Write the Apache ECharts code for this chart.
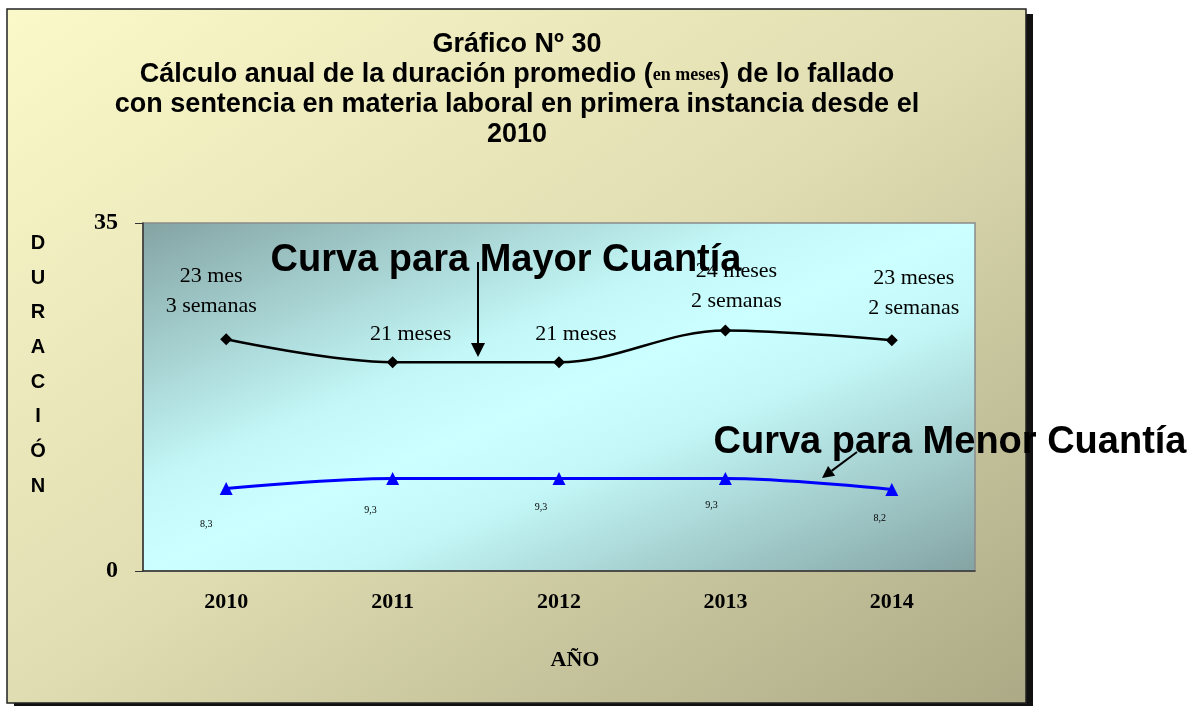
<!DOCTYPE html>
<html>
<head>
<meta charset="utf-8">
<script src="https://cdn.jsdelivr.net/npm/echarts@6/dist/echarts.min.js"></script>
<style>
  html, body { margin: 0; padding: 0; background: #fff; }
  #main { width: 1199px; height: 706px; }
</style>
</head>
<body>
<div id="main"></div>
<script>
const years = ['2010', '2011', '2012', '2013', '2014'];
const mayorValues = [23.3, 21.0, 21.0, 24.2, 23.2];
const mayorLabels = ['23 mes\n3 semanas', '21 meses', '21 meses', '24 meses\n2 semanas', '23 meses\n2 semanas'];
const menorValues = [8.3, 9.3, 9.3, 9.3, 8.2];
const menorLabels = ['8,3', '9,3', '9,3', '9,3', '8,2'];
const yTicks = [0, 35];

// label nudges, kept apart from the data
const mayorShift = [[-15, -4], [18, 1], [17, 1], [11, 0], [22, -3]];
const menorShift = [[-20, 20], [-22, 16], [-18, 13], [-14, 11], [-12, 13]];

const serif = '"Liberation Serif", "Times New Roman", serif';
const sans = '"Liberation Sans", Arial, sans-serif';

function arrow(x1, y1, x2, y2, head, width) {
  let ang = Math.atan2(y2 - y1, x2 - x1);
  let bx = x2 - head * Math.cos(ang);
  let by = y2 - head * Math.sin(ang);
  let px = Math.sin(ang) * width / 2;
  let py = -Math.cos(ang) * width / 2;
  return [
    { type: 'line', z: 120, shape: { x1: x1, y1: y1, x2: bx, y2: by }, style: { stroke: '#000', lineWidth: 2 } },
    { type: 'polygon', z: 120, shape: { points: [[x2, y2], [bx + px, by + py], [bx - px, by - py]] }, style: { fill: '#000' } }
  ];
}

function loadChart() {
  var chartDom = document.getElementById('main');
  var myChart = echarts.init(chartDom);
  var option;

  option = {
    animation: false,
    title: {
      left: 512,
      top: 25,
      textAlign: 'center',
      text: 'Gráfico Nº 30\nCálculo anual de la duración promedio ({s|en meses}) de lo fallado\ncon sentencia en materia laboral en primera instancia desde el\n2010',
      textStyle: {
        fontFamily: sans,
        fontWeight: 'bold',
        fontSize: 27,
        lineHeight: 30,
        color: '#000',
        rich: {
          s: { fontFamily: serif, fontWeight: 'bold', fontSize: 18, color: '#000' }
        }
      }
    },
    grid: {
      left: 143,
      top: 223,
      right: 224,
      bottom: 135,
      show: true,
      borderColor: '#8a8a8a',
      borderWidth: 1.5,
      // diagonal light band running from bottom-left to top-right
      backgroundColor: new echarts.graphic.LinearGradient(0, 0, 0.298, 1.7, [
        { offset: 0, color: '#84a3a3' },
        { offset: 0.38, color: '#c4f8f8' },
        { offset: 0.5, color: '#ccffff' },
        { offset: 0.62, color: '#c4f8f8' },
        { offset: 1, color: '#84a3a3' }
      ])
    },
    xAxis: {
      type: 'category',
      data: years,
      boundaryGap: true,
      name: 'AÑO',
      nameLocation: 'middle',
      nameGap: 78,
      nameTextStyle: { fontFamily: serif, fontWeight: 'bold', fontSize: 22, color: '#000', padding: [0, 0, 0, 32] },
      axisLine: { lineStyle: { color: '#333', width: 1.5 } },
      axisTick: { length: 7, lineStyle: { color: '#333' } },
      axisLabel: { fontFamily: serif, fontWeight: 'bold', fontSize: 22, color: '#000', margin: 20 }
    },
    yAxis: {
      type: 'value',
      min: yTicks[0],
      max: yTicks[1],
      interval: yTicks[1] - yTicks[0],
      splitLine: { show: false },
      axisLine: { show: true, lineStyle: { color: '#333', width: 1.5 } },
      axisTick: { show: true, length: 8, lineStyle: { color: '#333' } },
      axisLabel: { fontFamily: serif, fontWeight: 'bold', fontSize: 24, color: '#000', margin: 25 }
    },
    series: [
      {
        name: 'Mayor Cuantía',
        type: 'line',
        smooth: 0.35,
        data: mayorValues.map((v, i) => ({
          value: v,
          label: { offset: mayorShift[i], formatter: mayorLabels[i] }
        })),
        symbol: 'diamond',
        symbolSize: 12,
        itemStyle: { color: '#000' },
        lineStyle: { color: '#000', width: 2.5 },
        label: {
          show: true,
          position: 'top',
          distance: 8,
          fontFamily: serif,
          fontSize: 22,
          lineHeight: 30,
          color: '#000'
        }
      },
      {
        name: 'Menor Cuantía',
        type: 'line',
        smooth: 0.35,
        data: menorValues.map((v, i) => ({
          value: v,
          label: { offset: menorShift[i], formatter: menorLabels[i] }
        })),
        symbol: 'triangle',
        symbolSize: 13,
        itemStyle: { color: '#0000ff' },
        lineStyle: { color: '#0000ff', width: 3 },
        label: {
          show: true,
          position: 'bottom',
          distance: 4,
          fontFamily: serif,
          fontSize: 10,
          color: '#000'
        }
      }
    ],
    graphic: [
      { type: 'rect', z: -20, shape: { x: 14, y: 14, width: 1019, height: 694 }, style: { fill: '#111' } },
      {
        type: 'rect', z: -10,
        shape: { x: 7, y: 9, width: 1019, height: 694 },
        style: {
          fill: new echarts.graphic.LinearGradient(0, 0, 0.634, 1.366, [
            { offset: 0, color: '#fbf9c9' },
            { offset: 0.5, color: '#e0ddb2' },
            { offset: 1, color: '#acaa86' }
          ]),
          stroke: '#222',
          lineWidth: 1.5
        }
      },
      {
        type: 'text', z: 100, x: 38, y: 226,
        style: {
          text: 'D\nU\nR\nA\nC\nI\nÓ\nN',
          font: 'bold 20px ' + sans,
          lineHeight: 34.7,
          fill: '#000',
          align: 'center',
          verticalAlign: 'top'
        }
      },
      {
        type: 'text', z: 110, x: 506, y: 261,
        style: {
          text: 'Curva para Mayor Cuantía',
          font: 'bold 38px ' + sans,
          fill: '#000',
          align: 'center',
          verticalAlign: 'middle'
        }
      },
      {
        type: 'text', z: 110, x: 950, y: 443,
        style: {
          text: 'Curva para Menor Cuantía',
          font: 'bold 38px ' + sans,
          fill: '#000',
          align: 'center',
          verticalAlign: 'middle'
        }
      }
    ].concat(arrow(478, 262, 478, 357, 14, 14), arrow(857, 452, 822, 478, 12, 12))
  };

  myChart.setOption(option);
}

document.addEventListener('DOMContentLoaded', () => {
  loadChart();
});
</script>
</body>
</html>
